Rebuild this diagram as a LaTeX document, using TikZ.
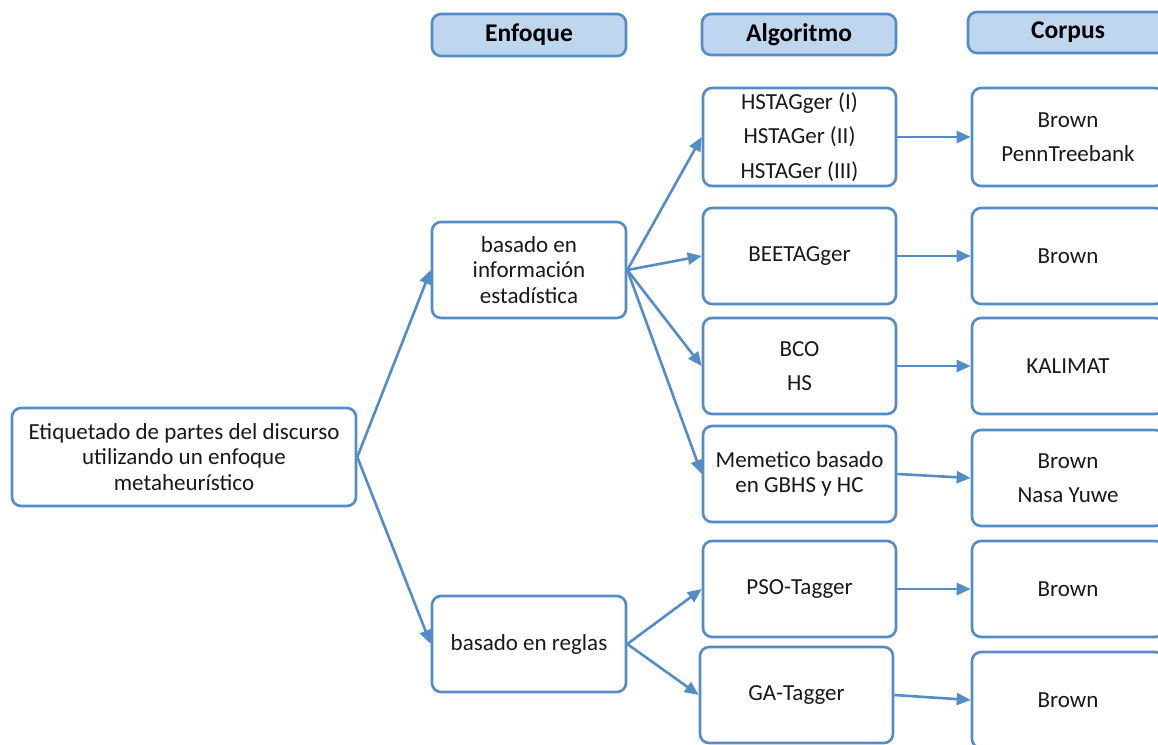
\documentclass[tikz,border=0pt]{standalone}
\usepackage{fontspec}
\setmainfont{Carlito}
\usetikzlibrary{arrows.meta}
\definecolor{lineblue}{RGB}{84,140,200}
\definecolor{headfill}{RGB}{190,215,238}
\tikzset{
  box/.style={draw=lineblue, line width=2.6pt, rounded corners=9pt, fill=white,
    align=center, inner sep=0pt, font=\fontsize{23}{25.5}\selectfont, text=black!90},
  wide/.style={font=\fontsize{23}{34.5}\selectfont},
  head/.style={box, fill=headfill, font=\fontsize{25.5}{28}\selectfont\bfseries, text=black},
  arr/.style={draw=lineblue, line width=2.6pt, -{Triangle[length=14pt,width=12pt]}},
}
\begin{document}
\begin{tikzpicture}[x=1pt,y=-1pt]
  \useasboundingbox (0,0) rectangle (1158,744);
  \clip (0,0) rectangle (1158,744);

  % column headers
  \node[head, minimum width=194pt, minimum height=42pt] (hE) at (529,35) {Enfoque};
  \node[head, minimum width=194pt, minimum height=41pt] (hA) at (799,34.5) {Algoritmo};
  \node[head, minimum width=200pt, minimum height=41pt] (hC) at (1068,32.5) {Corpus};

  % root
  \node[box, minimum width=344pt, minimum height=98pt] (root) at (184,457)
    {Etiquetado de partes del discurso\\utilizando un enfoque\\metaheurístico};

  % approaches
  \node[box, minimum width=194pt, minimum height=96pt] (est) at (529,270)
    {basado en\\información\\estadística};
  \node[box, minimum width=194pt, minimum height=96pt] (reg) at (529,644)
    {basado en reglas};

  % algorithms
  \node[box, wide, minimum width=193pt, minimum height=98pt] (hst) at (799.5,137)
    {HSTAGger (I)\\HSTAGer (II)\\HSTAGer (III)};
  \node[box, minimum width=193pt, minimum height=96pt] (bee) at (799.5,256) {BEETAGger};
  \node[box, wide, minimum width=193pt, minimum height=96pt] (bco) at (799.5,366) {BCO\\HS};
  \node[box, minimum width=193pt, minimum height=96pt] (mem) at (799.5,474)
    {Memetico basado\\en GBHS y HC};
  \node[box, minimum width=193pt, minimum height=96pt] (pso) at (799.5,589) {PSO-Tagger};
  \node[box, minimum width=193pt, minimum height=96pt] (ga) at (796.5,695) {GA-Tagger};

  % corpora
  \node[box, wide, minimum width=192pt, minimum height=98pt] (c1) at (1068,137)
    {Brown\\PennTreebank};
  \node[box, minimum width=192pt, minimum height=96pt] (c2) at (1068,256) {Brown};
  \node[box, minimum width=192pt, minimum height=96pt] (c3) at (1068,366) {KALIMAT};
  \node[box, wide, minimum width=192pt, minimum height=96pt] (c4) at (1068,478)
    {Brown\\Nasa Yuwe};
  \node[box, minimum width=192pt, minimum height=96pt] (c5) at (1068,589) {Brown};
  \node[box, minimum width=192pt, minimum height=96pt] (c6) at (1068,700) {Brown};

  % connectors
  \draw[arr] (root.east) -- (est.west);
  \draw[arr] (root.east) -- (reg.west);
  \draw[arr] (est.east) -- (hst.west);
  \draw[arr] (est.east) -- (bee.west);
  \draw[arr] (est.east) -- (bco.west);
  \draw[arr] (est.east) -- (mem.west);
  \draw[arr] (reg.east) -- (pso.west);
  \draw[arr] (reg.east) -- (ga.west);
  \draw[arr] (hst.east) -- (c1.west);
  \draw[arr] (bee.east) -- (c2.west);
  \draw[arr] (bco.east) -- (c3.west);
  \draw[arr] (mem.east) -- (c4.west);
  \draw[arr] (pso.east) -- (c5.west);
  \draw[arr] (ga.east) -- (c6.west);
\end{tikzpicture}
\end{document}
